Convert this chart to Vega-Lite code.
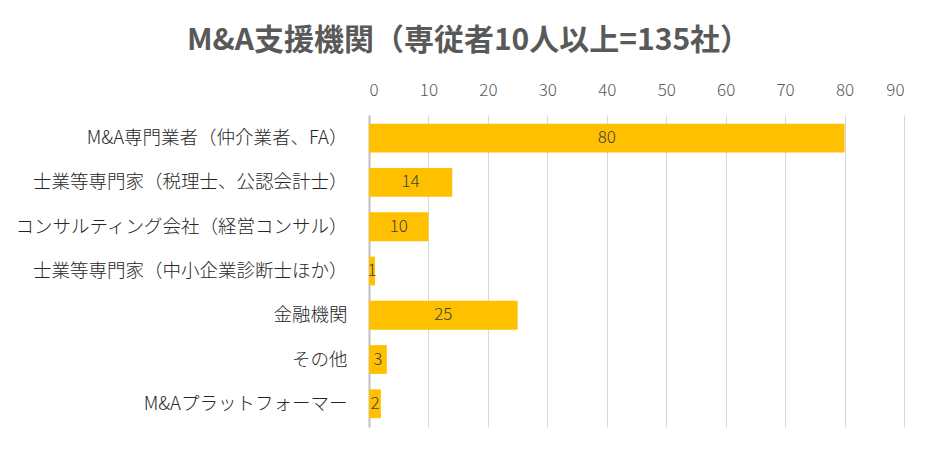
{
  "$schema": "https://vega.github.io/schema/vega-lite/v6.json",
  "width": 535,
  "height": 312,
  "autosize": {"type": "none"},
  "padding": {"left": 369, "top": 115, "right": 32, "bottom": 23},
  "background": "white",
  "title": {
    "text": "M&A支援機関（専従者10人以上=135社）",
    "font": "Noto Sans CJK JP",
    "fontSize": 30,
    "fontWeight": "bold",
    "color": "#595959",
    "anchor": "middle",
    "dx": -168,
    "offset": 25
  },
  "config": {
    "view": {"stroke": null},
    "font": "Noto Sans CJK JP"
  },
  "data": {
    "values": [
      {"category": "M&A専門業者（仲介業者、FA）", "value": 80},
      {"category": "士業等専門家（税理士、公認会計士）", "value": 14},
      {"category": "コンサルティング会社（経営コンサル）", "value": 10},
      {"category": "士業等専門家（中小企業診断士ほか）", "value": 1},
      {"category": "金融機関", "value": 25},
      {"category": "その他", "value": 3},
      {"category": "M&Aプラットフォーマー", "value": 2}
    ]
  },
  "encoding": {
    "y": {
      "field": "category",
      "type": "nominal",
      "sort": null,
      "title": null,
      "scale": {"paddingInner": 0.35, "paddingOuter": 0.2},
      "axis": {
        "ticks": false,
        "labelPadding": 22,
        "labelFontSize": 18.5,
        "labelFont": "Noto Sans CJK JP",
        "labelFontWeight": 300,
        "labelColor": "#262626",
        "labelLimit": 400,
        "domainColor": "#bfbfbf",
        "domainWidth": 2,
        "grid": false
      }
    }
  },
  "layer": [
    {
      "mark": {"type": "bar", "color": "#FFC000"},
      "encoding": {
        "x": {
          "field": "value",
          "type": "quantitative",
          "title": null,
          "scale": {"domain": [0, 90], "nice": false},
          "axis": {
            "orient": "top",
            "values": [0, 10, 20, 30, 40, 50, 60, 70, 80, 90],
            "domain": false,
            "ticks": false,
            "labelPadding": 16,
            "labelFontSize": 17,
            "labelFont": "Noto Sans CJK JP",
            "labelFontWeight": 300,
            "labelColor": "#595959",
            "gridColor": "#d9d9d9",
            "gridWidth": 1
          }
        }
      }
    },
    {
      "transform": [{"calculate": "datum.value / 2", "as": "mid"}],
      "mark": {"type": "text", "fontSize": 17, "font": "Noto Sans CJK JP", "fontWeight": 300, "color": "#404040", "align": "center", "baseline": "middle"},
      "encoding": {
        "x": {"field": "mid", "type": "quantitative"},
        "text": {"field": "value", "type": "quantitative"}
      }
    }
  ]
}
